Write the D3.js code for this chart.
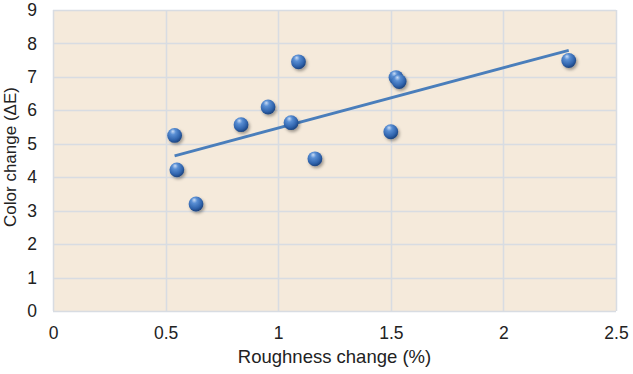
<!DOCTYPE html>
<html>
<head>
<meta charset="utf-8">
<title>Color change vs roughness change</title>
<style>
  body { margin: 0; background: #fff; }
  text { font-family: "Liberation Sans", Arial, sans-serif; fill: #222; }
</style>
</head>
<body>
<div id="chart"></div>
<script src="https://cdn.jsdelivr.net/npm/d3@7"></script>
<script>
// values
var roughness = [0.54, 0.55, 0.635, 0.835, 0.955, 1.057, 1.09, 1.163, 1.50, 1.523, 1.537, 2.29];
var colorChange = [5.25, 4.22, 3.2, 5.57, 6.1, 5.63, 7.45, 4.55, 5.36, 6.98, 6.86, 7.49];
var xTicks = [0, 0.5, 1, 1.5, 2, 2.5];
var yTicks = [0, 1, 2, 3, 4, 5, 6, 7, 8, 9];

var width = 633, height = 374;
var margin = {top: 10, right: 17, bottom: 63, left: 53};
var graphWidth = width - margin.left - margin.right;
var graphHeight = height - margin.top - margin.bottom;

var svg = d3.select('#chart').append('svg')
  .attr('width', width)
  .attr('height', height);

var defs = svg.append('defs');
var grad = defs.append('radialGradient')
  .attr('id', 'ball')
  .attr('cx', '40%').attr('cy', '35%').attr('r', '65%')
  .attr('fx', '38%').attr('fy', '22%');
grad.append('stop').attr('offset', '0%').attr('stop-color', '#c9dcf5');
grad.append('stop').attr('offset', '30%').attr('stop-color', '#5a8fd4');
grad.append('stop').attr('offset', '75%').attr('stop-color', '#3064ad');
grad.append('stop').attr('offset', '100%').attr('stop-color', '#1d447f');

var shadow = defs.append('filter').attr('id', 'shadow')
  .attr('x', '-50%').attr('y', '-50%').attr('width', '200%').attr('height', '200%');
shadow.append('feDropShadow')
  .attr('dx', 1.5).attr('dy', 2).attr('stdDeviation', 1.5)
  .attr('flood-color', '#000').attr('flood-opacity', 0.35);

var graph = svg.append('g')
  .attr('transform', `translate(${margin.left}, ${margin.top})`);

var x = d3.scaleLinear().domain([0, 2.5]).range([0, graphWidth]);
var y = d3.scaleLinear().domain([0, 9]).range([graphHeight, 0]);

graph.append('rect')
  .attr('width', graphWidth)
  .attr('height', graphHeight)
  .attr('fill', '#f5eadb');

// gridlines
graph.append('g').selectAll('line').data(yTicks).enter().append('line')
  .attr('x1', 0).attr('x2', graphWidth)
  .attr('y1', d => Math.round(y(d)) + 0.5).attr('y2', d => Math.round(y(d)) + 0.5)
  .attr('stroke', '#d8dce2').attr('stroke-width', 1.5);
graph.append('g').selectAll('line').data(xTicks).enter().append('line')
  .attr('y1', 0).attr('y2', graphHeight)
  .attr('x1', d => Math.round(x(d)) + 0.5).attr('x2', d => Math.round(x(d)) + 0.5)
  .attr('stroke', '#d8dce2').attr('stroke-width', 1.5);

// axes (labels only)
var xAxis = d3.axisBottom(x).tickValues(xTicks).tickSize(0).tickPadding(16).tickFormat(d3.format('~g'));
var yAxis = d3.axisLeft(y).tickValues(yTicks).tickSize(0).tickPadding(16);

var gx = graph.append('g').attr('transform', `translate(0, ${graphHeight})`).call(xAxis);
var gy = graph.append('g').call(yAxis);
gx.select('.domain').remove();
gy.select('.domain').remove();
gx.selectAll('text').style('font-size', '17.5px').attr('fill', '#222');
gy.selectAll('text').style('font-size', '17.5px').attr('fill', '#222');

// trendline (least squares)
var mx = d3.mean(roughness), my = d3.mean(colorChange);
var sxy = d3.sum(roughness, (v, i) => (v - mx) * (colorChange[i] - my));
var sxx = d3.sum(roughness, v => (v - mx) * (v - mx));
var slope = sxy / sxx, intercept = my - slope * mx;
var xr = d3.extent(roughness);
graph.append('line')
  .attr('x1', x(xr[0])).attr('y1', y(intercept + slope * xr[0]))
  .attr('x2', x(xr[1])).attr('y2', y(intercept + slope * xr[1]))
  .attr('stroke', '#4a7ebb').attr('stroke-width', 2.8);

// points
var points = roughness.map((v, i) => ({x: v, y: colorChange[i]}));
graph.append('g').selectAll('circle').data(points).enter().append('circle')
  .attr('cx', d => x(d.x))
  .attr('cy', d => y(d.y))
  .attr('r', 7.4)
  .attr('fill', 'url(#ball)')
  .attr('filter', 'url(#shadow)');

// axis titles
svg.append('text')
  .attr('x', margin.left + graphWidth / 2)
  .attr('y', 363)
  .attr('text-anchor', 'middle')
  .style('font-size', '18.5px')
  .text('Roughness change (%)');

svg.append('text')
  .attr('transform', `translate(16, ${157}) rotate(-90)`)
  .attr('text-anchor', 'middle')
  .style('font-size', '17px')
  .text('Color change (ΔE)');
</script>
</body>
</html>
